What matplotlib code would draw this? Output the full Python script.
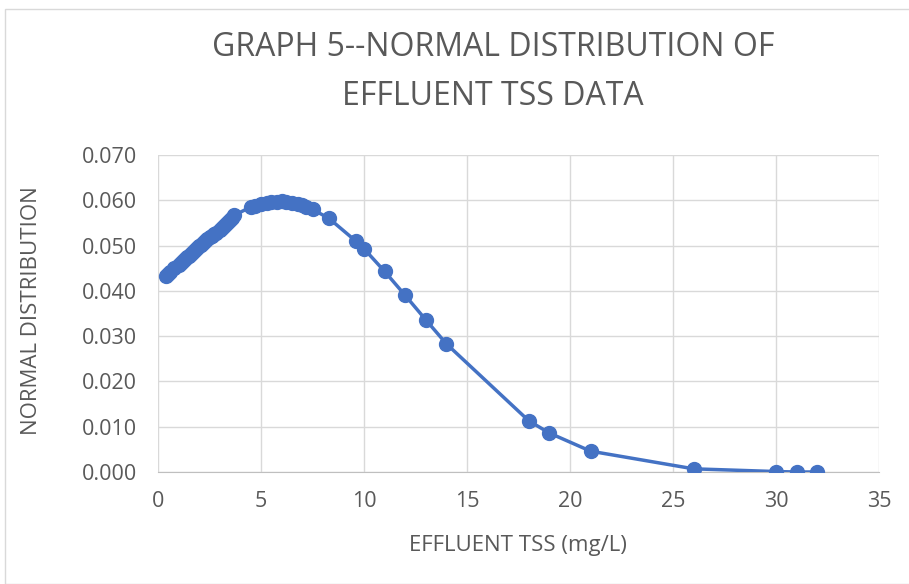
import matplotlib
matplotlib.use('Agg')
from matplotlib import pyplot as plt
import numpy as np

# effluent TSS (mg/L) and normal distribution values
tss = [0.4, 0.5, 0.6, 0.8, 1.0, 1.1, 1.2, 1.3, 1.4, 1.5, 1.6, 1.7, 1.8, 1.9,
       2.0, 2.1, 2.2, 2.3, 2.4, 2.5, 2.6, 2.7, 2.8, 3.0, 3.1, 3.2, 3.3, 3.4,
       3.5, 3.6, 3.7,
       4.5, 4.7, 5.0, 5.3, 5.5, 5.8, 6.0, 6.2, 6.5, 6.8, 7.0, 7.2, 7.5,
       8.3, 9.6, 10, 11, 12, 13, 14, 18, 19, 21, 26, 30, 31, 32]
norm = [0.0433, 0.0437, 0.0442, 0.0450, 0.0458, 0.0462, 0.0466, 0.0470,
        0.0474, 0.0478, 0.0482, 0.0486, 0.0490, 0.0494, 0.0498, 0.0502,
        0.0506, 0.0510, 0.0514, 0.0518, 0.0521, 0.0525, 0.0528, 0.0535,
        0.0539, 0.0543, 0.0547, 0.0551, 0.0556, 0.0561, 0.0567,
        0.0585, 0.0588, 0.0592, 0.0595, 0.0596, 0.0597, 0.0598, 0.0597,
        0.0595, 0.0592, 0.0589, 0.0586, 0.0580,
        0.0560, 0.0510, 0.0493, 0.0443, 0.0390, 0.0336, 0.0283, 0.0113,
        0.0086, 0.0046, 0.0007, 0.0001, 0.0000, 0.0000]

xticks = [0, 5, 10, 15, 20, 25, 30, 35]
yticks = [0.0, 0.01, 0.02, 0.03, 0.04, 0.05, 0.06, 0.07]

plt.rcParams['font.family'] = ['Open Sans', 'DejaVu Sans']
grey = '#595959'
blue = '#4472C4'

fig = plt.figure(figsize=(9.09, 5.84), dpi=100)
ax = fig.add_axes([158/909, 1 - 472/584, (879-158)/909, (472-155)/584])

ax.plot(tss, norm, color=blue, lw=2.5, marker='o', ms=10, zorder=3)

ax.set_xlim(0, 35)
ax.set_ylim(0, 0.07)
ax.set_xticks(xticks)
ax.set_yticks(yticks)
ax.set_yticklabels(['%.3f' % v for v in yticks])
ax.grid(True, color='#d9d9d9', lw=1)
ax.set_axisbelow(True)
for s in ['top', 'right', 'left']:
    ax.spines[s].set_visible(False)
ax.spines['bottom'].set_color('#bfbfbf')
ax.tick_params(length=0, labelsize=15.5, colors=grey)
ax.tick_params(axis='y', pad=15)
ax.tick_params(axis='x', pad=14)

fig.text(518/909, 1 - 545/584, 'EFFLUENT TSS (mg/L)', ha='center', va='center',
         fontsize=16, color=grey)
fig.text(32/909, 1 - 311/584, 'NORMAL DISTRIBUTION', ha='center', va='center',
         rotation=90, fontsize=16, color=grey)
fig.text(493/909, 1 - 72/584, 'GRAPH 5--NORMAL DISTRIBUTION OF\nEFFLUENT TSS DATA',
         ha='center', va='center', fontsize=23, color=grey, linespacing=1.62)

fig.patches.append(plt.Rectangle((5/909, 0), 1, 1 - 9/584, transform=fig.transFigure,
                                 fill=False, edgecolor='#d9d9d9', lw=1))

fig.savefig('out.png', dpi=100)
